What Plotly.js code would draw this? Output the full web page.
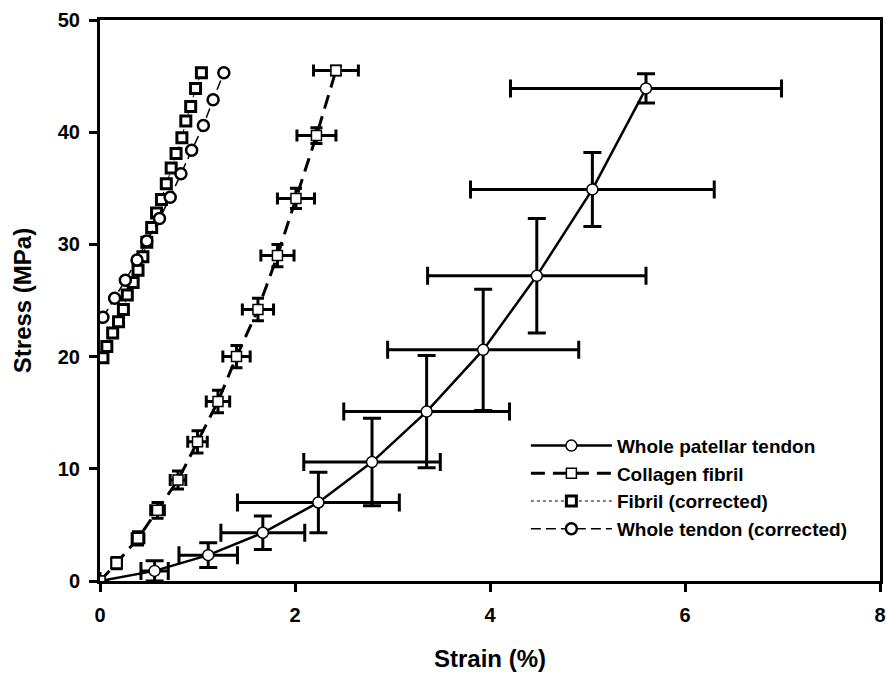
<!DOCTYPE html>
<html>
<head>
<meta charset="utf-8">
<script src="https://cdn.plot.ly/plotly-3.0.1.min.js"></script>
<style>
  html, body { margin: 0; padding: 0; background: #fff; }
  #chart { width: 887px; height: 675px; }
</style>
</head>
<body>
<div id="chart"></div>
<script>
// Whole patellar tendon: mean strain / stress with SD in both directions
const tendonStrain    = [0, 0.56, 1.11, 1.67, 2.24, 2.79, 3.35, 3.93, 4.48, 5.05, 5.60];
const tendonStress    = [0, 0.9, 2.3, 4.3, 7.0, 10.6, 15.1, 20.6, 27.2, 34.9, 43.9];
const tendonStrainErr = [0, 0.14, 0.30, 0.43, 0.83, 0.70, 0.85, 0.98, 1.12, 1.25, 1.39];
const tendonStressErr = [0, 0.9, 1.1, 1.5, 2.7, 3.9, 5.0, 5.4, 5.1, 3.3, 1.3];

// Collagen fibril
const fibrilStrain    = [0, 0.17, 0.39, 0.59, 0.80, 1.00, 1.21, 1.40, 1.62, 1.82, 2.01, 2.22, 2.42];
const fibrilStress    = [0, 1.6, 3.8, 6.3, 9.0, 12.4, 16.0, 20.0, 24.2, 29.0, 34.1, 39.7, 45.5];
const fibrilStrainErr = [0, 0.05, 0.06, 0.07, 0.08, 0.10, 0.12, 0.14, 0.16, 0.17, 0.19, 0.20, 0.23];
const fibrilStressErr = [0, 0.5, 0.6, 0.7, 0.8, 1.0, 1.0, 1.0, 1.0, 1.0, 0.9, 0.7, 0.4];

// Fibril (corrected)
const fibrilCorrStrain = [0.03, 0.07, 0.13, 0.19, 0.24, 0.28, 0.34, 0.39, 0.44, 0.48, 0.53, 0.58, 0.63, 0.68, 0.73, 0.78, 0.84, 0.88, 0.93, 0.98, 1.04];
const fibrilCorrStress = [19.9, 20.9, 22.1, 23.1, 24.2, 25.5, 26.6, 27.7, 28.9, 30.2, 31.5, 32.8, 34.0, 35.4, 36.8, 38.1, 39.5, 41.0, 42.3, 43.9, 45.3];

// Whole tendon (corrected)
const tendonCorrStrain = [0.03, 0.15, 0.26, 0.38, 0.48, 0.61, 0.72, 0.83, 0.94, 1.06, 1.16, 1.27];
const tendonCorrStress = [23.5, 25.2, 26.8, 28.6, 30.3, 32.3, 34.2, 36.3, 38.4, 40.6, 42.9, 45.3];

const xTicks = [0, 2, 4, 6, 8];
const yTicks = [0, 10, 20, 30, 40, 50];

const FONT = 'Liberation Sans, Arial, sans-serif';

const traces = [
  {
    name: 'Whole patellar tendon',
    x: tendonStrain, y: tendonStress,
    mode: 'lines+markers',
    line: { color: '#000', width: 2.5 },
    marker: { symbol: 'circle', size: 11, color: '#fff', line: { color: '#000', width: 1.5 } },
    error_x: { type: 'data', array: tendonStrainErr, visible: true, color: '#000', thickness: 3, width: 9 },
    error_y: { type: 'data', array: tendonStressErr, visible: true, color: '#000', thickness: 3, width: 9 }
  },
  {
    name: 'Collagen fibril',
    x: fibrilStrain, y: fibrilStress,
    mode: 'lines+markers',
    line: { color: '#000', width: 3, dash: '14px,8px' },
    marker: { symbol: 'square', size: 10, color: '#fff', line: { color: '#000', width: 1.5 } },
    error_x: { type: 'data', array: fibrilStrainErr, visible: true, color: '#000', thickness: 3, width: 6 },
    error_y: { type: 'data', array: fibrilStressErr, visible: true, color: '#000', thickness: 3, width: 6 }
  },
  {
    name: 'Fibril (corrected)',
    x: fibrilCorrStrain, y: fibrilCorrStress,
    mode: 'lines+markers',
    line: { color: '#000', width: 1, dash: 'dot' },
    marker: { symbol: 'square', size: 10, color: '#fff', line: { color: '#000', width: 3 } }
  },
  {
    name: 'Whole tendon (corrected)',
    x: tendonCorrStrain, y: tendonCorrStress,
    mode: 'lines+markers',
    line: { color: '#000', width: 1.5, dash: '10px,5px' },
    marker: { symbol: 'circle', size: 11, color: '#fff', line: { color: '#000', width: 2.5 } }
  }
];

const layout = {
  width: 887, height: 675,
  margin: { l: 100, r: 7, t: 20, b: 94 },
  paper_bgcolor: '#fff', plot_bgcolor: '#fff',
  font: { family: FONT, color: '#000' },
  showlegend: true,
  legend: {
    x: 0.546, y: 0.275, xanchor: 'left', yanchor: 'top',
    bgcolor: 'rgba(0,0,0,0)', borderwidth: 0,
    font: { family: FONT, size: 19, color: '#000', weight: 'bold' },
    itemwidth: 81, tracegroupgap: 0
  },
  xaxis: {
    range: [0, 8], tickvals: xTicks, ticktext: xTicks.map(String),
    showgrid: false, zeroline: false,
    showline: true, linecolor: '#000', linewidth: 3, mirror: true,
    ticks: 'outside', ticklen: 8, tickwidth: 3, tickcolor: '#000',
    ticklabelstandoff: 6,
    tickfont: { family: FONT, size: 20, color: '#000', weight: 'bold' },
    title: { text: 'Strain (%)', font: { family: FONT, size: 24, color: '#000', weight: 'bold' }, standoff: 26 }
  },
  yaxis: {
    range: [0, 50], tickvals: yTicks, ticktext: yTicks.map(String),
    showgrid: false, zeroline: false,
    showline: true, linecolor: '#000', linewidth: 3, mirror: true,
    ticks: 'outside', ticklen: 8, tickwidth: 3, tickcolor: '#000',
    ticklabelstandoff: 5,
    tickfont: { family: FONT, size: 20, color: '#000', weight: 'bold' },
    title: { text: 'Stress (MPa)', font: { family: FONT, size: 24, color: '#000', weight: 'bold' }, standoff: 20 }
  }
};

Plotly.newPlot('chart', traces, layout, { staticPlot: true, displayModeBar: false });
</script>
</body>
</html>
